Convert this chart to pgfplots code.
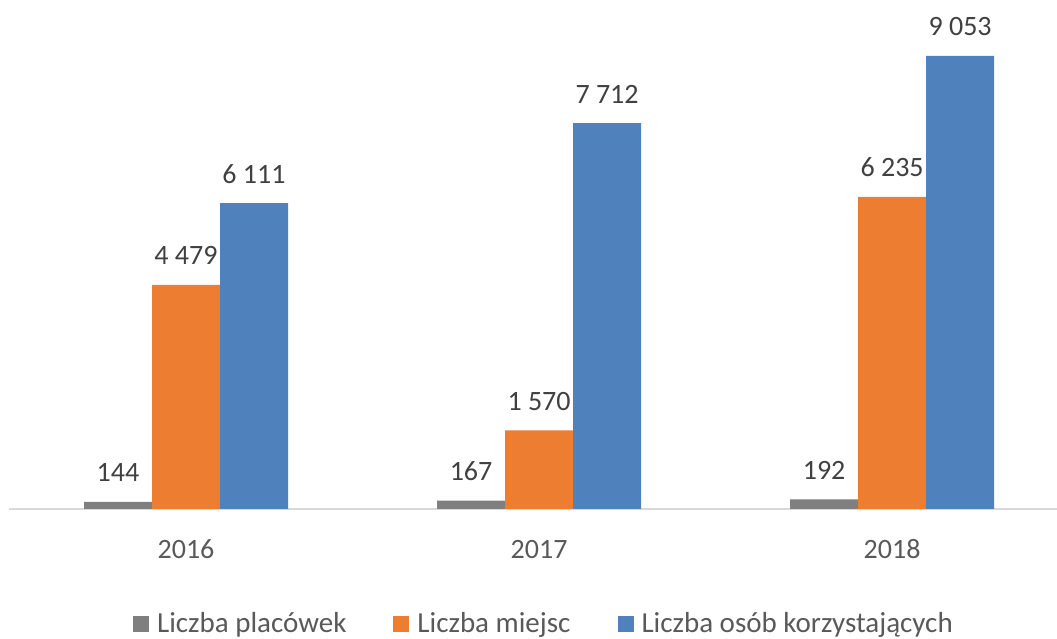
\documentclass[border=0pt]{standalone}
\usepackage{fontspec}
\setmainfont{Carlito}
\usepackage{pgfplots}
\pgfplotsset{compat=1.18}
\definecolor{cgray}{HTML}{7F7F7F}
\definecolor{corange}{HTML}{ED7D31}
\definecolor{cblue}{HTML}{4F81BD}
\definecolor{clabel}{HTML}{404040}
\definecolor{ctick}{HTML}{595959}
\definecolor{caxis}{HTML}{D9D9D9}
\pgfplotsset{sq/.style={legend image code/.code={\fill[##1,draw=none] (0pt,1pt) rectangle (16pt,17pt);}}}
\begin{document}
\fontsize{28pt}{34pt}\selectfont
\begin{tikzpicture}
\useasboundingbox (0,0) rectangle (1057pt,639pt);
\begin{axis}[
  at={(9pt,130pt)}, anchor=south west,
  scale only axis, width=1048pt, height=509pt,
  xmin=-0.5014, xmax=2.467, ymin=0, ymax=10172,
  ybar=0pt, bar width=68pt,
  hide y axis,
  axis x line*=bottom,
  x axis line style={draw=caxis, line width=1.2pt},
  xtick={0,1,2}, xticklabels={2016,2017,2018},
  xtick style={draw=none},
  xticklabel style={anchor=base, inner sep=0pt, yshift=-45pt, text=ctick, font=\fontsize{28pt}{34pt}\selectfont},
  clip=false,
  nodes near coords={\pgfmathprintnumber[assume math mode=true,1000 sep={~}]{\pgfplotspointmeta}},
  every node near coord/.append style={anchor=base, inner sep=0pt, yshift=20pt, text=clabel, font=\fontsize{28pt}{34pt}\selectfont},
  legend style={at={(0.5095,-0.2436)}, anchor=base, draw=none, fill=none, text=ctick,
    font=\fontsize{29pt}{35pt}\selectfont,
    nodes={inner sep=0pt, anchor=base},
    /tikz/every odd column/.append style={column sep=8pt},
    /tikz/every even column/.append style={column sep=47pt}},
  legend columns=-1,
]
\addplot[fill=cgray, draw=none, sq] coordinates {(0,144) (1,167) (2,192)};
\addplot[fill=corange, draw=none, sq] coordinates {(0,4479) (1,1570) (2,6235)};
\addplot[fill=cblue, draw=none, sq] coordinates {(0,6111) (1,7712) (2,9053)};
\legend{Liczba placówek, Liczba miejsc, Liczba osób korzystających}
\end{axis}
\end{tikzpicture}
\end{document}
